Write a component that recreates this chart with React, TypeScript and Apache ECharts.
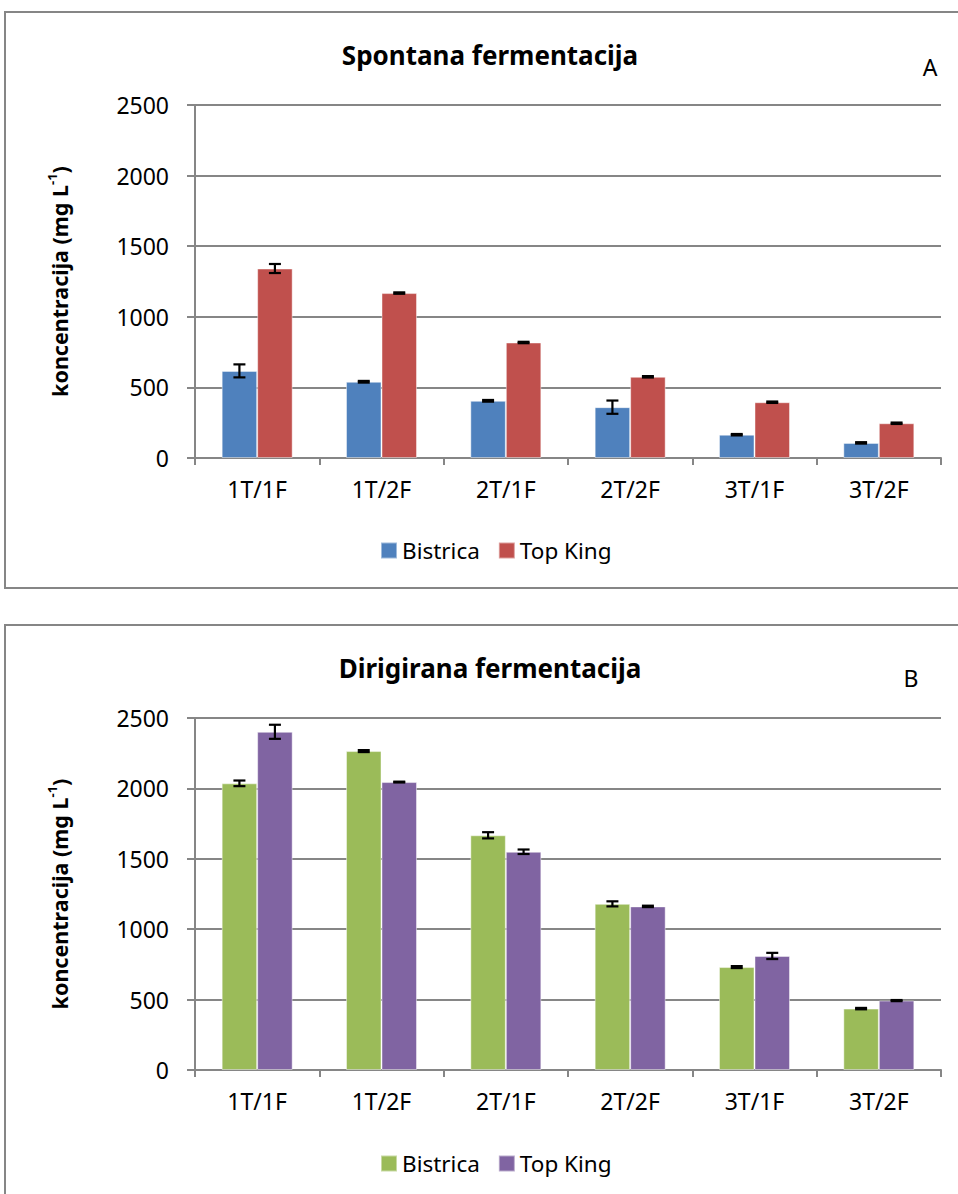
import React, { useEffect, useRef } from "react";
import * as echarts from "echarts";

const categories = ["1T/1F", "1T/2F", "2T/1F", "2T/2F", "3T/1F", "3T/2F"];
const seriesNames = ["Bistrica", "Top King"];
const yTicks = [0, 500, 1000, 1500, 2000, 2500];

// Panel A – Spontana fermentacija
const spontBistrica = [617, 540, 405, 360, 165, 107];
const spontBistricaErr = [46, 6, 6, 47, 5, 5];
const spontTopKing = [1342, 1168, 818, 575, 395, 246];
const spontTopKingErr = [32, 5, 5, 5, 5, 5];

// Panel B – Dirigirana fermentacija
const dirBistrica = [2036, 2265, 1667, 1180, 731, 436];
const dirBistricaErr = [20, 7, 22, 18, 7, 5];
const dirTopKing = [2402, 2045, 1550, 1162, 810, 493];
const dirTopKingErr = [50, 3, 16, 5, 22, 4];

const FONT = "'Noto Sans', 'DejaVu Sans', sans-serif";
const AXIS_COLOR = "#868686";
const BAR_W = 35.5;

function errorSeries(values: number[], errs: number[], offset: number) {
  return {
    type: "custom",
    z: 10,
    silent: true,
    data: values.map((v, i) => [i, v, errs[i]]),
    renderItem: (params: any, api: any) => {
      const i = api.value(0);
      const v = api.value(1);
      const e = api.value(2);
      const top = api.coord([i, v + e]);
      const bot = api.coord([i, v - e]);
      const cx = top[0] + offset;
      const half = 6;
      const st = { stroke: "#000", lineWidth: 2.2 };
      return {
        type: "group",
        children: [
          { type: "line", shape: { x1: cx, y1: top[1], x2: cx, y2: bot[1] }, style: st },
          { type: "line", shape: { x1: cx - half, y1: top[1], x2: cx + half, y2: top[1] }, style: st },
          { type: "line", shape: { x1: cx - half, y1: bot[1], x2: cx + half, y2: bot[1] }, style: st },
        ],
      };
    },
  };
}

function makeOption(cfg: {
  title: string;
  letter: string;
  letterX: number;
  letterY: number;
  borderY: number;
  borderH: number;
  gridTop: number;
  gridBottom: number;
  legendTop: number;
  colors: string[];
  v1: number[];
  e1: number[];
  v2: number[];
  e2: number[];
  titleY: number;
}) {
  return {
    animation: false,
    color: cfg.colors,
    textStyle: { fontFamily: FONT },
    graphic: [
      {
        type: "rect",
        shape: { x: 5, y: cfg.borderY, width: 1000, height: cfg.borderH },
        style: { fill: "none", stroke: AXIS_COLOR, lineWidth: 2 },
        silent: true,
      },
      {
        type: "text",
        x: 490,
        y: cfg.titleY,
        style: {
          text: cfg.title,
          font: `bold 26px ${FONT}`,
          fill: "#000",
          align: "center",
          verticalAlign: "middle",
        },
      },
      {
        type: "text",
        x: cfg.letterX,
        y: cfg.letterY,
        style: {
          text: cfg.letter,
          font: `23px ${FONT}`,
          fill: "#000",
          align: "center",
          verticalAlign: "middle",
        },
      },
    ],
    legend: {
      data: seriesNames,
      left: 375,
      top: cfg.legendTop,
      itemWidth: 16,
      itemHeight: 16,
      itemGap: 18,
      icon: "rect",
      textStyle: { fontSize: 22.5, color: "#000", fontFamily: FONT, padding: [0, 0, 0, 0] },
    },
    grid: { left: 195, right: 17, top: cfg.gridTop, bottom: cfg.gridBottom, containLabel: false },
    xAxis: {
      type: "category",
      data: categories,
      axisLine: { lineStyle: { color: AXIS_COLOR, width: 2 } },
      axisTick: { show: true, length: 7, lineStyle: { color: AXIS_COLOR, width: 2 } },
      axisLabel: { color: "#000", fontSize: 23, margin: 19, fontFamily: FONT },
    },
    yAxis: {
      type: "value",
      min: yTicks[0],
      max: yTicks[yTicks.length - 1],
      interval: 500,
      name: "{b|koncentracija (mg L}{s|-1}{b|)}",
      nameLocation: "middle",
      nameRotate: 90,
      nameGap: 122,
      nameTextStyle: {
        rich: {
          b: { fontSize: 21.5, fontWeight: "bold", color: "#000", fontFamily: FONT, lineHeight: 28 },
          s: { fontSize: 13, fontWeight: "bold", color: "#000", fontFamily: FONT, verticalAlign: "top", lineHeight: 28 },
        },
      },
      axisLine: { show: true, lineStyle: { color: AXIS_COLOR, width: 2 } },
      axisTick: { show: true, length: 8, lineStyle: { color: AXIS_COLOR, width: 2 } },
      splitLine: { lineStyle: { color: AXIS_COLOR, width: 2 } },
      axisLabel: {
        color: "#000",
        fontSize: 23,
        margin: 26,
        fontFamily: FONT,
        formatter: (v: number) => String(v),
      },
    },
    series: [
      {
        name: seriesNames[0],
        type: "bar",
        data: cfg.v1,
        barWidth: BAR_W,
        barGap: "0%",
        itemStyle: { color: cfg.colors[0], borderColor: "rgba(255,255,255,0.45)", borderWidth: 1 },
      },
      {
        name: seriesNames[1],
        type: "bar",
        data: cfg.v2,
        barWidth: BAR_W,
        barGap: "0%",
        itemStyle: { color: cfg.colors[1], borderColor: "rgba(255,255,255,0.45)", borderWidth: 1 },
      },
      errorSeries(cfg.v1, cfg.e1, -BAR_W / 2),
      errorSeries(cfg.v2, cfg.e2, BAR_W / 2),
    ],
  };
}

export default function App() {
  const refA = useRef<HTMLDivElement>(null);
  const refB = useRef<HTMLDivElement>(null);

  useEffect(() => {
    const a = echarts.init(refA.current!, undefined, { renderer: "svg" });
    const b = echarts.init(refB.current!, undefined, { renderer: "svg" });
    a.setOption(
      makeOption({
        title: "Spontana fermentacija",
        letter: "A",
        letterX: 930,
        letterY: 67,
        borderY: 12,
        borderH: 576,
        gridTop: 105,
        gridBottom: 142,
        legendTop: 534,
        colors: ["#4F81BD", "#C0504D"],
        v1: spontBistrica,
        e1: spontBistricaErr,
        v2: spontTopKing,
        e2: spontTopKingErr,
        titleY: 55,
      }) as any
    );
    b.setOption(
      makeOption({
        title: "Dirigirana fermentacija",
        letter: "B",
        letterX: 911,
        letterY: 78,
        borderY: 25,
        borderH: 700,
        gridTop: 118,
        gridBottom: 124,
        legendTop: 547,
        colors: ["#9BBB59", "#8064A2"],
        v1: dirBistrica,
        e1: dirBistricaErr,
        v2: dirTopKing,
        e2: dirTopKingErr,
        titleY: 68,
      }) as any
    );
    return () => {
      a.dispose();
      b.dispose();
    };
  }, []);

  return (
    <div style={{ position: "absolute", left: 0, top: 0, width: 958, height: 1194, background: "#fff" }}>
      <div ref={refA} style={{ position: "absolute", left: 0, top: 0, width: 958, height: 600 }} />
      <div ref={refB} style={{ position: "absolute", left: 0, top: 600, width: 958, height: 594 }} />
    </div>
  );
}
